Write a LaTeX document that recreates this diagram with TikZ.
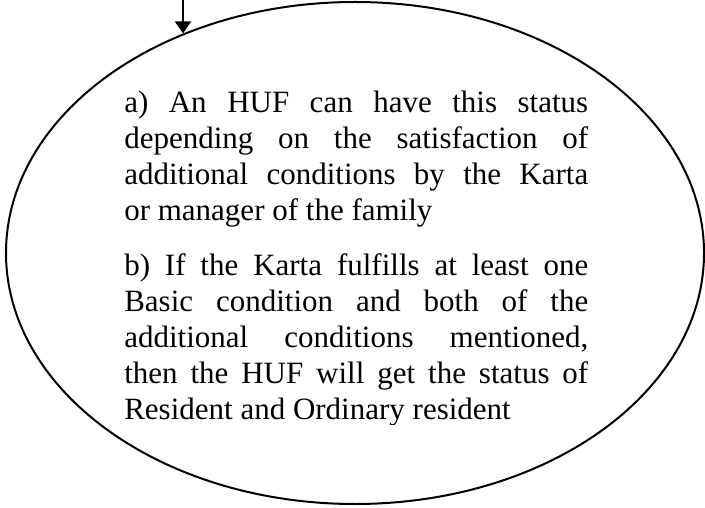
\documentclass[tikz,border=0pt]{standalone}
\usepackage{fontspec}
\setmainfont{Liberation Serif}
\usetikzlibrary{positioning,arrows.meta,shapes.geometric}
\definecolor{tinta}{HTML}{000000}

\begin{document}
\begin{tikzpicture}[x=0.75pt, y=0.75pt,
    ovalo/.style={ellipse, draw=tinta, line width=1.5pt,
                  minimum width=523.5pt, minimum height=376.5pt},
    texto/.style={inner sep=0pt, text width=348pt, align=justify,
                  font=\fontsize{23.25pt}{27pt}\selectfont},
    flecha/.style={draw=tinta, line width=1.5pt, -{Triangle[length=9pt,width=12pt]}}]
    \useasboundingbox (0,0) rectangle (705,507);
    % el ovalo grande
    \node[ovalo] (oval) at (355,254) {};
    % texto, recortado abajo como en el original
    \begin{scope}
      \clip (0,83) rectangle (705,507);
      \node[texto, anchor=base west] (info) at (124,394.5) {%
        a) An HUF can have this status\linebreak
        depending on the satisfaction of\linebreak
        additional conditions by the Karta\linebreak
        or manager of the family\par\vspace{14.6pt}
        b) If the Karta fulfills at least one\linebreak
        Basic condition and both of the\linebreak
        additional conditions mentioned,\linebreak
        then the HUF will get the status of\linebreak
        Resident and Ordinary resident};
    \end{scope}
    % flecha de entrada, arriba
    \coordinate (src) at (183,507);
    \draw[flecha] (src) -- (src |- oval.128.2);
  \end{tikzpicture}
\end{document}
